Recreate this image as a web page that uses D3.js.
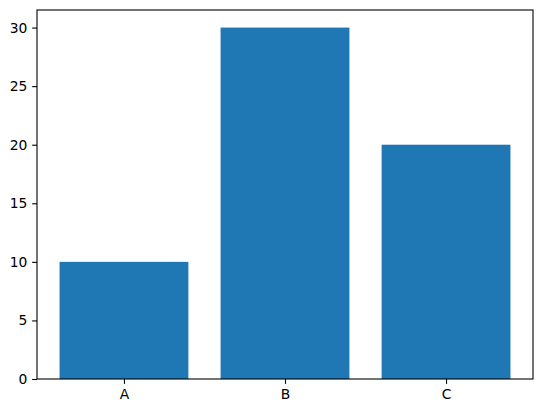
<!DOCTYPE html>
<html><head><meta charset="utf-8">
<script src="https://cdn.jsdelivr.net/npm/d3@7"></script>
<style>body{margin:0;background:#fff}svg{display:block}</style>
</head><body>
<svg id="chart" width="543" height="413"></svg>
<script>
const categories = ["A", "B", "C"];
const values = [10, 30, 20];
const yTicks = [0, 5, 10, 15, 20, 25, 30];

(function(){
const svg = d3.select("#chart");
const mLeft = 37, mRight = 533, mTop = 10, mBottom = 379;
const font = "DejaVu Sans, sans-serif";
const fs = 13.89;

const x = d3.scaleLinear().domain([-0.54, 2.54]).range([mLeft, mRight]);
const y = d3.scaleLinear().domain([0, 31.5]).range([mBottom, mTop]);

svg.append("rect").attr("x",0).attr("y",0).attr("width",543).attr("height",413).attr("fill","#fff");

svg.selectAll("rect.bar").data(values).enter().append("rect")
  .attr("class","bar")
  .attr("x",(d,i)=>x(i-0.4))
  .attr("width",(d,i)=>x(i+0.4)-x(i-0.4))
  .attr("y",d=>y(d))
  .attr("height",d=>y(0)-y(d))
  .attr("fill","#1f77b4");

const tickLen = 4.86, pad = 4.86;
const yAxis = d3.axisLeft(y).tickValues(yTicks).tickSize(tickLen).tickPadding(pad).tickFormat(d3.format("d"));
const gy = svg.append("g").attr("transform",`translate(${mLeft},0)`).call(yAxis);
gy.select(".domain").remove();
gy.selectAll("line").attr("stroke","#000").attr("stroke-width",1.1);
gy.selectAll("text").attr("font-family",font).attr("font-size",fs).attr("fill","#000");

const xAxis = d3.axisBottom(x).tickValues([0,1,2]).tickSize(tickLen).tickPadding(pad).tickFormat(i=>categories[i]);
const gx = svg.append("g").attr("transform",`translate(0,${mBottom})`).call(xAxis);
gx.select(".domain").remove();
gx.selectAll("line").attr("stroke","#000").attr("stroke-width",1.1);
gx.selectAll("text").attr("font-family",font).attr("font-size",fs).attr("fill","#000");

svg.append("rect").attr("x",mLeft).attr("y",mTop).attr("width",mRight-mLeft).attr("height",mBottom-mTop)
  .attr("fill","none").attr("stroke","#000").attr("stroke-width",1.1);
})();
</script>
</body></html>
